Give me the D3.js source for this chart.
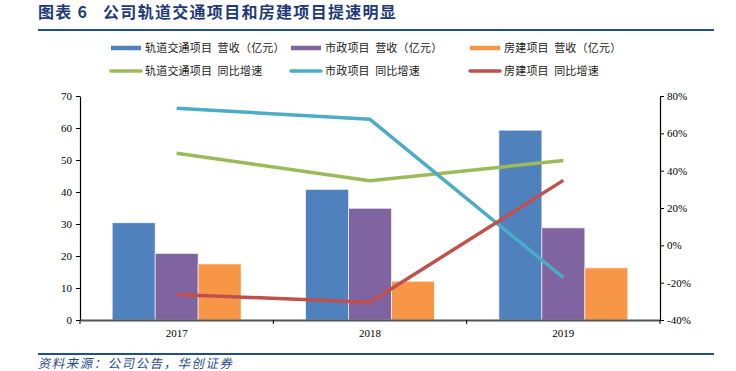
<!DOCTYPE html>
<html>
<head>
<meta charset="utf-8">
<script src="https://cdn.jsdelivr.net/npm/d3@7"></script>
<style>
  body { margin: 0; background: #fff; }
  svg text { font-family: "Liberation Serif", "DejaVu Serif", serif; }
  .cjk { font-family: "Noto Sans CJK SC", sans-serif !important; white-space: pre; }
</style>
</head>
<body>
<div class="chart"></div>
<script>
// data
const years = ["2017", "2018", "2019"];
const revRail = [30.4, 40.8, 59.3];
const revMuni = [20.8, 34.9, 28.8];
const revHouse = [17.5, 12.1, 16.3];
const yoyRail = [0.493, 0.346, 0.454];
const yoyMuni = [0.734, 0.675, -0.173];
const yoyHouse = [-0.263, -0.305, 0.348];
const leftTicks = [0, 10, 20, 30, 40, 50, 60, 70];
const rightTicks = [-0.4, -0.2, 0, 0.2, 0.4, 0.6, 0.8];

const barSeries = [
  { name: "轨道交通项目  营收（亿元）", values: revRail, color: "#4F81BD" },
  { name: "市政项目  营收（亿元）", values: revMuni, color: "#8064A2" },
  { name: "房建项目  营收（亿元）", values: revHouse, color: "#F79646" }
];
const lineSeries = [
  { name: "轨道交通项目  同比增速", values: yoyRail, color: "#9BBB59" },
  { name: "市政项目  同比增速", values: yoyMuni, color: "#4BACC6" },
  { name: "房建项目  同比增速", values: yoyHouse, color: "#C0504D" }
];

const W = 736, H = 371;
const margin = { top: 96, left: 80, right: 76, bottom: 51 };
const width = W - margin.left - margin.right;
const height = H - margin.top - margin.bottom;

const root = d3.select('.chart').append('svg')
  .attr('width', W)
  .attr('height', H);

// title
root.append('text')
  .attr('class', 'cjk')
  .attr('x', 38)
  .attr('y', 18)
  .attr('fill', '#1F3A78')
  .attr('font-size', 16)
  .attr('letter-spacing', 1.3)
  .attr('font-weight', 'bold')
  .text('图表 6   公司轨道交通项目和房建项目提速明显');

root.append('line')
  .attr('x1', 38).attr('x2', 714)
  .attr('y1', 30).attr('y2', 30)
  .attr('stroke', '#1F4E8C')
  .attr('stroke-width', 2);

root.append('line')
  .attr('x1', 38).attr('x2', 714)
  .attr('y1', 354).attr('y2', 354)
  .attr('stroke', '#1F4E8C')
  .attr('stroke-width', 2);

root.append('text')
  .attr('class', 'cjk')
  .attr('x', 38)
  .attr('y', 368)
  .attr('fill', '#1F4E8C')
  .attr('font-size', 12.5)
  .attr('letter-spacing', 1.5)
  .attr('transform', 'skewX(-12) translate(78,0)')
  .text('资料来源：公司公告，华创证券');

const svg = root.append('g')
  .attr('transform', 'translate(' + margin.left + ',' + margin.top + ')');

const x0 = d3.scaleBand().domain(years).range([0, width]);
const x1 = d3.scaleBand()
  .domain(d3.range(barSeries.length))
  .range([0, x0.bandwidth()])
  .paddingOuter(0.75)
  .paddingInner(0);
const yL = d3.scaleLinear().domain([0, 70]).range([height, 0]);
const yR = d3.scaleLinear().domain([-0.4, 0.8]).range([height, 0]);

// bars
barSeries.forEach((s, si) => {
  svg.append('g')
    .selectAll('rect')
    .data(s.values)
    .enter()
    .append('rect')
    .attr('x', (d, i) => x0(years[i]) + x1(si))
    .attr('y', d => yL(d))
    .attr('width', x1.bandwidth())
    .attr('height', d => height - yL(d))
    .attr('fill', s.color)
    .attr('stroke', '#ffffff')
    .attr('stroke-opacity', 0.6)
    .attr('stroke-width', 1);
});

// lines
const line = d3.line()
  .x((d, i) => x0(years[i]) + x0.bandwidth() / 2)
  .y(d => yR(d));

lineSeries.forEach(s => {
  svg.append('path')
    .datum(s.values)
    .attr('fill', 'none')
    .attr('stroke', s.color)
    .attr('stroke-width', 3.5)
    .attr('stroke-linejoin', 'round')
    .attr('d', line);
});

// axes
const yAxisL = d3.axisLeft(yL).tickValues(leftTicks).tickSize(4).tickSizeOuter(0);
const yAxisR = d3.axisRight(yR).tickValues(rightTicks).tickSize(4).tickSizeOuter(0)
  .tickFormat(d => Math.round(d * 100) + '%');
const xAxis = d3.axisBottom(x0).tickSize(0).tickSizeOuter(0);

const gl = svg.append('g').call(yAxisL);
gl.select('.domain').attr('stroke', '#000').attr('stroke-width', 1.2);
gl.selectAll('text').attr('font-size', 11).attr('fill', '#000').attr('x', -8);

const gr = svg.append('g').attr('transform', `translate(${width},0)`).call(yAxisR);
gr.select('.domain').attr('stroke', '#000').attr('stroke-width', 1.2);
gr.selectAll('text').attr('font-size', 11).attr('fill', '#000').attr('x', 7);

const gx = svg.append('g').attr('transform', `translate(0,${height})`).call(xAxis);
gx.select('.domain').attr('stroke', '#555').attr('stroke-width', 2);
gx.selectAll('text').attr('font-size', 11).attr('fill', '#000').attr('dy', '1.3em');
gx.selectAll('.sep')
  .data([0].concat(years.map(y => x0(y) + x0.bandwidth())))
  .enter()
  .append('line')
  .attr('x1', d => d).attr('x2', d => d)
  .attr('y1', 0).attr('y2', 4)
  .attr('stroke', '#000');

// legend
const legendX = [111, 291, 470];
const legendY = [48, 71];
[barSeries, lineSeries].forEach((group, row) => {
  group.forEach((s, i) => {
    const g = root.append('g')
      .attr('transform', 'translate(' + legendX[i] + ',' + legendY[row] + ')');
    g.append('line')
      .attr('x1', 0).attr('x2', 30)
      .attr('y1', 0).attr('y2', 0)
      .attr('stroke', s.color)
      .attr('stroke-width', row === 0 ? 4.5 : 3.5)
      .attr('stroke-linecap', row === 0 ? 'butt' : 'round');
    g.append('text')
      .attr('class', 'cjk')
      .attr('x', 34)
      .attr('y', 4)
      .attr('font-size', 11)
      .attr('letter-spacing', 0.2)
      .attr('fill', '#222')
      .text(s.name);
  });
});
</script>
</body>
</html>
